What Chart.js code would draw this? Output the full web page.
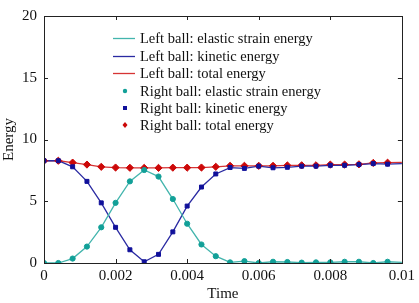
<!DOCTYPE html>
<html>
<head>
<meta charset="utf-8">
<script src="https://cdn.jsdelivr.net/npm/chart.js@4"></script>
<style>
  html, body { margin: 0; padding: 0; background: #fff; }
  #wrap { width: 419px; height: 303px; }
</style>
</head>
<body>
<div id="wrap"><canvas id="chart"></canvas></div>
<script>
// temps (s) : un point toutes les 0.0004 s, la courbe continue va jusqu'a 0.01
const time = [0, 0.0004, 0.0008, 0.0012, 0.0016, 0.002, 0.0024, 0.0028, 0.0032, 0.0036,
  0.004, 0.0044, 0.0048, 0.0052, 0.0056, 0.006, 0.0064, 0.0068, 0.0072, 0.0076,
  0.008, 0.0084, 0.0088, 0.0092, 0.0096, 0.01]

// Boule gauche (courbes)
const leftStrain = [0, 0, 0.36, 1.33, 2.89, 4.87, 6.61, 7.53, 7.0, 5.18, 3.18, 1.50, 0.55,
  0.05, 0.15, 0, 0.1, 0.08, 0.03, 0.05, 0.05, 0.1, 0.1, 0, 0.1, 0.05]
const leftKinetic = [8.28, 8.28, 7.79, 6.61, 4.87, 2.89, 1.07, 0.1, 0.70, 2.52, 4.61, 6.15, 7.21,
  7.73, 7.66, 7.84, 7.71, 7.75, 7.84, 7.84, 7.91, 7.91, 7.97, 8.05, 8.0, 8.05]
const leftTotal = [8.28, 8.28, 8.13, 7.97, 7.79, 7.73, 7.71, 7.70, 7.70, 7.72, 7.72, 7.73, 7.79,
  7.87, 7.87, 7.87, 7.87, 7.90, 7.91, 7.91, 7.97, 7.97, 7.99, 8.10, 8.12, 8.15]

// Boule droite (points, jusqu'a 0.0096)
const rightStrain = [0, 0, 0.36, 1.33, 2.89, 4.87, 6.61, 7.53, 7.0, 5.18, 3.18, 1.50, 0.55,
  0.05, 0.15, 0, 0.1, 0.08, 0.03, 0.05, 0.05, 0.1, 0.1, 0, 0.1]
const rightKinetic = [8.28, 8.28, 7.79, 6.61, 4.87, 2.89, 1.07, 0.1, 0.70, 2.52, 4.61, 6.15, 7.21,
  7.73, 7.66, 7.84, 7.71, 7.75, 7.84, 7.84, 7.91, 7.91, 7.97, 8.05, 8.0]
const rightTotal = [8.28, 8.28, 8.13, 7.97, 7.79, 7.73, 7.71, 7.70, 7.70, 7.72, 7.72, 7.73, 7.79,
  7.87, 7.87, 7.87, 7.87, 7.90, 7.91, 7.91, 7.97, 7.97, 7.99, 8.10, 8.12]

const xTicks = [0, 0.002, 0.004, 0.006, 0.008, 0.01]
const yTicks = [0, 5, 10, 15, 20]
const legendLabels = ['Left ball: elastic strain energy', 'Left ball: kinetic energy', 'Left ball: total energy',
  'Right ball: elastic strain energy', 'Right ball: kinetic energy', 'Right ball: total energy']

const FONT = 'Liberation Serif, Times New Roman, serif'
const toXY = (vals) => vals.map((v, i) => ({ x: time[i], y: v }))

function lineSet(label, vals, color) {
    return { label: label, data: toXY(vals), borderColor: color, backgroundColor: color,
        showLine: true, borderWidth: 1.3, pointRadius: 0, tension: 0, order: 2 }
}
function pointSet(label, vals, color, style, r) {
    return { label: label, data: toXY(vals), borderColor: color, backgroundColor: color,
        showLine: false, pointStyle: style, pointRadius: r, borderWidth: 1, order: 1 }
}

// cadre + graduations vers l'interieur sur les 4 cotes, et legende dans la zone du graphique
const framePlugin = {
    id: 'frame',
    afterDraw(chart) {
        const ctx = chart.ctx
        const a = chart.chartArea
        const xs = chart.scales.x, ys = chart.scales.y
        ctx.save()
        ctx.strokeStyle = '#222'
        ctx.lineWidth = 1
        ctx.strokeRect(Math.round(a.left) + 0.5, Math.round(a.top) + 0.5, Math.round(a.right - a.left), Math.round(a.bottom - a.top))
        ctx.beginPath()
        const t = 4
        xTicks.forEach(v => {
            const px = Math.round(xs.getPixelForValue(v)) + 0.5
            ctx.moveTo(px, a.bottom); ctx.lineTo(px, a.bottom - t)
            ctx.moveTo(px, a.top); ctx.lineTo(px, a.top + t)
        })
        yTicks.forEach(v => {
            const py = Math.round(ys.getPixelForValue(v)) + 0.5
            ctx.moveTo(a.left, py); ctx.lineTo(a.left + t, py)
            ctx.moveTo(a.right, py); ctx.lineTo(a.right - t, py)
        })
        ctx.stroke()

        // legende
        const ds = chart.data.datasets
        const rows = [38, 56, 73, 91, 108, 125]
        ctx.font = '14.5px ' + FONT
        ctx.textBaseline = 'middle'
        legendLabels.forEach((lab, i) => {
            const y = rows[i]
            const d = ds[i]
            if (i < 3) {
                ctx.strokeStyle = d.borderColor
                ctx.lineWidth = 1.3
                ctx.beginPath(); ctx.moveTo(113, y + 0.5); ctx.lineTo(135, y + 0.5); ctx.stroke()
            } else {
                ctx.fillStyle = d.backgroundColor
                ctx.beginPath()
                if (d.pointStyle === 'circle') ctx.arc(125, y, 2.2, 0, Math.PI * 2)
                else if (d.pointStyle === 'rect') ctx.rect(123, y - 2, 4, 4)
                else { ctx.moveTo(125, y - 3); ctx.lineTo(127.5, y); ctx.lineTo(125, y + 3); ctx.lineTo(122.5, y); ctx.closePath() }
                ctx.fill()
            }
            ctx.fillStyle = '#111'
            ctx.fillText(lab, 140, y + 1.5)
        })
        ctx.restore()
    }
}

const config = {
    type: 'scatter',
    data: {
        datasets: [
            lineSet(legendLabels[0], leftStrain, '#43b5ad'),
            lineSet(legendLabels[1], leftKinetic, '#2a2aa2'),
            lineSet(legendLabels[2], leftTotal, '#d63434'),
            pointSet(legendLabels[3], rightStrain, '#12a098', 'circle', 2.6),
            pointSet(legendLabels[4], rightKinetic, '#10109a', 'rect', 2.8),
            pointSet(legendLabels[5], rightTotal, '#cc0808', 'rectRot', 3.6)
        ]
    },
    options: {
        responsive: false,
        animation: false,
        devicePixelRatio: 1,
        layout: { padding: { top: 7, right: 16, left: 0, bottom: 0 } },
        plugins: { legend: { display: false }, tooltip: { enabled: false } },
        scales: {
            x: {
                type: 'linear', min: 0, max: 0.01,
                afterBuildTicks: (s) => { s.ticks = xTicks.map(v => ({ value: v })) },
                afterFit: (s) => { s.height = 40 },
                grid: { display: false, drawTicks: false },
                border: { display: false },
                ticks: { color: '#111', font: { family: FONT, size: 15 }, padding: 4, maxRotation: 0,
                    callback: (v) => String(Number(v.toFixed(3))) },
                title: { display: true, text: 'Time', color: '#111', font: { family: FONT, size: 15 }, padding: { top: 0, bottom: 0 } }
            },
            y: {
                type: 'linear', min: 0, max: 20,
                afterBuildTicks: (s) => { s.ticks = yTicks.map(v => ({ value: v })) },
                afterFit: (s) => { s.width = 44 },
                grid: { display: false, drawTicks: false },
                border: { display: false },
                ticks: { color: '#111', font: { family: FONT, size: 15 }, padding: 7 },
                title: { display: true, text: 'Energy', color: '#111', font: { family: FONT, size: 15 }, padding: { top: 0, bottom: 0 } }
            }
        }
    },
    plugins: [framePlugin]
}

const cv = document.getElementById('chart')
cv.width = 419
cv.height = 303
let myChart = new Chart(cv, config)
</script>
</body>
</html>
